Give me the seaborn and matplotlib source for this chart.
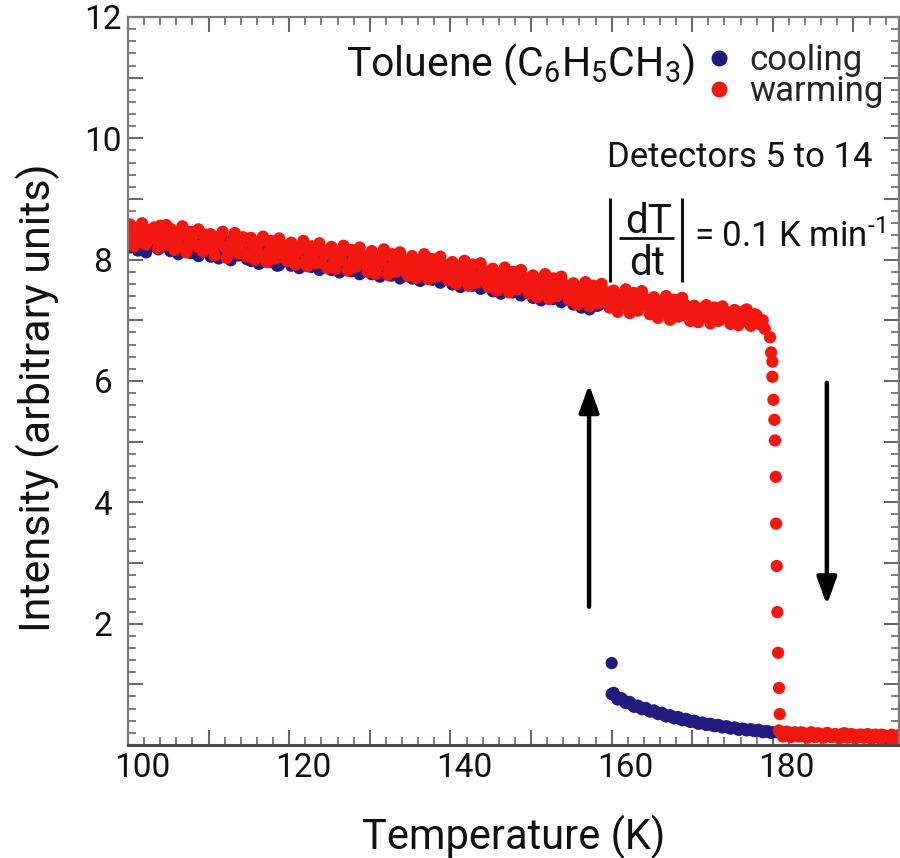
import matplotlib
matplotlib.use("Agg")
import matplotlib.pyplot as plt
from matplotlib.lines import Line2D
import numpy as np
import pandas as pd
import seaborn as sns
from matplotlib.ticker import MultipleLocator, FuncFormatter
from matplotlib.transforms import ScaledTranslation

# ---------------- data ----------------
cool_plateau_T = [
    100.0, 100.5, 101.0, 101.5, 102.0, 102.5, 103.0, 103.5, 104.0, 104.5,
    105.0, 105.5, 106.0, 106.5, 107.0, 107.5, 108.0, 108.5, 109.0, 109.5,
    110.0, 110.5, 111.0, 111.5, 112.0, 112.5, 113.0, 113.5, 114.0, 114.5,
    115.0, 115.5, 116.0, 116.5, 117.0, 117.5, 118.0, 118.5, 119.0, 119.5,
    120.0, 120.5, 121.0, 121.5, 122.0, 122.5, 123.0, 123.5, 124.0, 124.5,
    125.0, 125.5, 126.0, 126.5, 127.0, 127.5, 128.0, 128.5, 129.0, 129.5,
    130.0, 130.5, 131.0, 131.5, 132.0, 132.5, 133.0, 133.5, 134.0, 134.5,
    135.0, 135.5, 136.0, 136.5, 137.0, 137.5, 138.0, 138.5, 139.0, 139.5,
    140.0, 140.5, 141.0, 141.5, 142.0, 142.5, 143.0, 143.5, 144.0, 144.5,
    145.0, 145.5, 146.0, 146.5, 147.0, 147.5, 148.0, 148.5, 149.0, 149.5,
    150.0, 150.5, 151.0, 151.5, 152.0, 152.5, 153.0, 153.5, 154.0, 154.5,
    155.0, 155.5, 156.0, 156.5, 157.0, 157.5, 158.0, 158.5]
cool_plateau_I = [
    8.30, 8.41, 8.22, 8.36, 8.18, 8.33, 8.27, 8.44, 8.20, 8.31,
    8.35, 8.17, 8.28, 8.13, 8.32, 8.24, 8.11, 8.30, 8.21, 8.26,
    8.14, 8.27, 8.05, 8.22, 8.17, 8.30, 8.08, 8.19, 8.24, 8.10,
    8.18, 8.02, 8.15, 8.21, 7.97, 8.12, 8.06, 7.90, 8.14, 8.03,
    7.99, 8.11, 7.93, 8.05, 8.14, 7.91, 8.02, 7.96, 8.08, 7.88,
    7.97, 8.05, 7.86, 7.99, 7.92, 8.06, 7.83, 7.94, 7.89, 8.01,
    7.85, 7.93, 7.79, 7.97, 7.88, 7.74, 7.90, 8.00, 7.81, 7.86,
    7.78, 7.90, 7.72, 7.84, 7.79, 7.69, 7.86, 7.75, 7.81, 7.67,
    7.74, 7.62, 7.80, 7.68, 7.73, 7.59, 7.70, 7.76, 7.61, 7.66,
    7.57, 7.69, 7.52, 7.63, 7.58, 7.47, 7.65, 7.55, 7.49, 7.60,
    7.46, 7.55, 7.40, 7.52, 7.44, 7.36, 7.50, 7.41, 7.33, 7.47,
    7.38, 7.29, 7.43, 7.25, 7.35, 7.22, 7.31, 7.26]
cool_plateau_T2 = [
    100.25, 100.75, 101.25, 101.75, 102.25, 102.75, 103.25, 103.75, 104.25, 104.75,
    105.25, 105.75, 106.25, 106.75, 107.25, 107.75, 108.25, 108.75, 109.25, 109.75,
    110.25, 110.75, 111.25, 111.75, 112.25, 112.75, 113.25, 113.75, 114.25, 114.75,
    115.25, 115.75, 116.25, 116.75, 117.25, 117.75, 118.25, 118.75, 119.25, 119.75,
    120.25, 120.75, 121.25, 121.75, 122.25, 122.75, 123.25, 123.75, 124.25, 124.75,
    125.25, 125.75, 126.25, 126.75, 127.25, 127.75, 128.25, 128.75, 129.25, 129.75,
    130.25, 130.75, 131.25, 131.75, 132.25, 132.75, 133.25, 133.75, 134.25, 134.75,
    135.25, 135.75, 136.25, 136.75, 137.25, 137.75, 138.25, 138.75, 139.25, 139.75,
    140.25, 140.75, 141.25, 141.75, 142.25, 142.75, 143.25, 143.75, 144.25, 144.75,
    145.25, 145.75, 146.25, 146.75, 147.25, 147.75, 148.25, 148.75, 149.25, 149.75,
    150.25, 150.75, 151.25, 151.75, 152.25, 152.75, 153.25, 153.75, 154.25, 154.75,
    155.25, 155.75, 156.25, 156.75, 157.25, 157.75, 158.25]
cool_plateau_I2 = [
    8.20, 8.34, 8.15, 8.29, 8.12, 8.38, 8.22, 8.17, 8.31, 8.24,
    8.14, 8.25, 8.09, 8.21, 8.28, 8.11, 8.19, 8.06, 8.24, 8.15,
    8.05, 8.17, 8.02, 8.13, 8.20, 7.99, 8.12, 8.07, 8.16, 8.01,
    7.98, 8.10, 7.93, 8.06, 8.12, 7.96, 8.04, 7.91, 8.08, 7.99,
    7.90, 8.02, 7.86, 7.98, 8.05, 7.88, 7.96, 7.83, 8.00, 7.92,
    7.83, 7.95, 7.79, 7.91, 7.98, 7.81, 7.89, 7.76, 7.93, 7.85,
    7.76, 7.88, 7.72, 7.84, 7.90, 7.74, 7.82, 7.69, 7.86, 7.78,
    7.69, 7.81, 7.65, 7.77, 7.83, 7.67, 7.75, 7.62, 7.79, 7.71,
    7.59, 7.71, 7.55, 7.67, 7.73, 7.57, 7.65, 7.52, 7.69, 7.61,
    7.48, 7.60, 7.44, 7.56, 7.62, 7.46, 7.54, 7.41, 7.58, 7.50,
    7.37, 7.49, 7.33, 7.45, 7.51, 7.35, 7.43, 7.30, 7.47, 7.39,
    7.26, 7.37, 7.21, 7.33, 7.18, 7.29, 7.24]
cool_jump_T = [160.0]
cool_jump_I = [1.35]
cool_tail_T = [
    160.0, 160.5, 161.0, 161.5, 162.0, 162.5, 163.0, 163.5, 164.0, 164.5,
    165.0, 165.5, 166.0, 166.5, 167.0, 167.5, 168.0, 168.5, 169.0, 169.5,
    170.0, 170.5, 171.0, 171.5, 172.0, 172.5, 173.0, 173.5, 174.0, 174.5,
    175.0, 175.5, 176.0, 176.5, 177.0, 177.5, 178.0, 178.5, 179.0, 179.5,
    180.0, 180.5, 181.0, 181.5, 182.0, 182.5, 183.0, 183.5, 184.0, 184.5,
    185.0, 185.5, 186.0, 186.5, 187.0, 187.5, 188.0, 188.5, 189.0, 189.5,
    190.0, 190.5, 191.0, 191.5, 192.0, 192.5, 193.0, 193.5, 194.0, 194.5,
    195.0, 195.5]
cool_tail_I = [
    0.84, 0.80, 0.76, 0.73, 0.70, 0.67, 0.64, 0.62, 0.60, 0.58,
    0.56, 0.54, 0.52, 0.50, 0.48, 0.46, 0.45, 0.43, 0.42, 0.40,
    0.39, 0.38, 0.36, 0.35, 0.34, 0.33, 0.32, 0.31, 0.30, 0.29,
    0.28, 0.27, 0.26, 0.26, 0.25, 0.24, 0.24, 0.23, 0.22, 0.22,
    0.21, 0.21, 0.20, 0.20, 0.19, 0.19, 0.18, 0.18, 0.18, 0.17,
    0.17, 0.17, 0.16, 0.16, 0.16, 0.15, 0.15, 0.15, 0.15, 0.14,
    0.14, 0.14, 0.14, 0.13, 0.13, 0.13, 0.13, 0.12, 0.12, 0.12,
    0.12, 0.12]
cool_tail_T2 = [
    160.25, 160.75, 161.25, 161.75, 162.25, 162.75, 163.25, 163.75, 164.25, 164.75,
    165.25, 165.75, 166.25, 166.75, 167.25, 167.75, 168.25, 168.75, 169.25, 169.75,
    170.25, 170.75, 171.25, 171.75, 172.25, 172.75, 173.25, 173.75, 174.25, 174.75,
    175.25, 175.75, 176.25, 176.75, 177.25, 177.75, 178.25, 178.75, 179.25, 179.75]
cool_tail_I2 = [
    0.86, 0.75, 0.77, 0.69, 0.71, 0.63, 0.65, 0.59, 0.61, 0.55,
    0.57, 0.51, 0.53, 0.47, 0.49, 0.44, 0.46, 0.41, 0.43, 0.38,
    0.40, 0.35, 0.37, 0.33, 0.35, 0.31, 0.33, 0.29, 0.31, 0.27,
    0.29, 0.25, 0.27, 0.24, 0.26, 0.23, 0.25, 0.21, 0.23, 0.20]

warm_plateau_T = [
    100.0, 100.5, 101.0, 101.5, 102.0, 102.5, 103.0, 103.5, 104.0, 104.5,
    105.0, 105.5, 106.0, 106.5, 107.0, 107.5, 108.0, 108.5, 109.0, 109.5,
    110.0, 110.5, 111.0, 111.5, 112.0, 112.5, 113.0, 113.5, 114.0, 114.5,
    115.0, 115.5, 116.0, 116.5, 117.0, 117.5, 118.0, 118.5, 119.0, 119.5,
    120.0, 120.5, 121.0, 121.5, 122.0, 122.5, 123.0, 123.5, 124.0, 124.5,
    125.0, 125.5, 126.0, 126.5, 127.0, 127.5, 128.0, 128.5, 129.0, 129.5,
    130.0, 130.5, 131.0, 131.5, 132.0, 132.5, 133.0, 133.5, 134.0, 134.5,
    135.0, 135.5, 136.0, 136.5, 137.0, 137.5, 138.0, 138.5, 139.0, 139.5,
    140.0, 140.5, 141.0, 141.5, 142.0, 142.5, 143.0, 143.5, 144.0, 144.5,
    145.0, 145.5, 146.0, 146.5, 147.0, 147.5, 148.0, 148.5, 149.0, 149.5,
    150.0, 150.5, 151.0, 151.5, 152.0, 152.5, 153.0, 153.5, 154.0, 154.5,
    155.0, 155.5, 156.0, 156.5, 157.0, 157.5, 158.0, 158.5, 159.0, 159.5,
    160.0, 160.5, 161.0, 161.5, 162.0, 162.5, 163.0, 163.5, 164.0, 164.5,
    165.0, 165.5, 166.0, 166.5, 167.0, 167.5, 168.0, 168.5, 169.0, 169.5,
    170.0, 170.5, 171.0, 171.5, 172.0, 172.5, 173.0, 173.5, 174.0, 174.5,
    175.0, 175.5, 176.0, 176.5, 177.0, 177.5, 178.0, 178.5, 179.0]
warm_plateau_I = [
    8.45, 8.31, 8.52, 8.38, 8.27, 8.49, 8.41, 8.33, 8.56, 8.36,
    8.24, 8.42, 8.30, 8.47, 8.19, 8.35, 8.40, 8.22, 8.44, 8.28,
    8.33, 8.16, 8.29, 8.40, 8.21, 8.12, 8.35, 8.24, 8.18, 8.31,
    8.09, 8.26, 8.20, 8.05, 8.32, 8.14, 8.22, 8.03, 8.19, 8.11,
    8.17, 8.01, 8.13, 8.24, 7.98, 8.10, 8.06, 8.20, 7.95, 8.08,
    8.12, 7.93, 8.04, 7.99, 8.15, 7.90, 8.02, 8.08, 7.94, 7.97,
    8.03, 7.86, 7.98, 7.92, 8.07, 7.84, 7.95, 7.89, 8.01, 7.82,
    7.93, 7.79, 7.88, 7.96, 7.77, 7.85, 7.91, 7.74, 7.87, 7.80,
    7.84, 7.71, 7.89, 7.76, 7.68, 7.82, 7.73, 7.64, 7.79, 7.70,
    7.62, 7.75, 7.66, 7.58, 7.72, 7.61, 7.69, 7.54, 7.67, 7.59,
    7.63, 7.51, 7.57, 7.66, 7.48, 7.55, 7.44, 7.60, 7.50, 7.42,
    7.52, 7.39, 7.47, 7.35, 7.49, 7.41, 7.33, 7.46, 7.38, 7.30,
    7.40, 7.29, 7.36, 7.25, 7.38, 7.27, 7.33, 7.21, 7.30, 7.24,
    7.28, 7.17, 7.25, 7.14, 7.22, 7.11, 7.19, 7.23, 7.09, 7.16,
    7.18, 7.07, 7.14, 7.20, 7.04, 7.11, 7.16, 7.02, 7.09, 7.13,
    7.01, 7.10, 6.99, 7.06, 6.97, 7.03, 7.08, 6.93, 6.86]
warm_plateau_T2 = [
    100.25, 100.75, 101.25, 101.75, 102.25, 102.75, 103.25, 103.75, 104.25, 104.75,
    105.25, 105.75, 106.25, 106.75, 107.25, 107.75, 108.25, 108.75, 109.25, 109.75,
    110.25, 110.75, 111.25, 111.75, 112.25, 112.75, 113.25, 113.75, 114.25, 114.75,
    115.25, 115.75, 116.25, 116.75, 117.25, 117.75, 118.25, 118.75, 119.25, 119.75,
    120.25, 120.75, 121.25, 121.75, 122.25, 122.75, 123.25, 123.75, 124.25, 124.75,
    125.25, 125.75, 126.25, 126.75, 127.25, 127.75, 128.25, 128.75, 129.25, 129.75,
    130.25, 130.75, 131.25, 131.75, 132.25, 132.75, 133.25, 133.75, 134.25, 134.75,
    135.25, 135.75, 136.25, 136.75, 137.25, 137.75, 138.25, 138.75, 139.25, 139.75,
    140.25, 140.75, 141.25, 141.75, 142.25, 142.75, 143.25, 143.75, 144.25, 144.75,
    145.25, 145.75, 146.25, 146.75, 147.25, 147.75, 148.25, 148.75, 149.25, 149.75,
    150.25, 150.75, 151.25, 151.75, 152.25, 152.75, 153.25, 153.75, 154.25, 154.75,
    155.25, 155.75, 156.25, 156.75, 157.25, 157.75, 158.25, 158.75, 159.25, 159.75,
    160.25, 160.75, 161.25, 161.75, 162.25, 162.75, 163.25, 163.75, 164.25, 164.75,
    165.25, 165.75, 166.25, 166.75, 167.25, 167.75, 168.25, 168.75, 169.25, 169.75,
    170.25, 170.75, 171.25, 171.75, 172.25, 172.75, 173.25, 173.75, 174.25, 174.75,
    175.25, 175.75, 176.25, 176.75, 177.25, 177.75, 178.25, 178.75]
warm_plateau_I2 = [
    8.58, 8.22, 8.47, 8.60, 8.25, 8.39, 8.53, 8.19, 8.44, 8.57,
    8.51, 8.16, 8.37, 8.55, 8.12, 8.46, 8.25, 8.50, 8.14, 8.41,
    8.42, 8.07, 8.36, 8.46, 8.03, 8.28, 8.44, 8.10, 8.37, 8.05,
    8.36, 8.00, 8.27, 8.38, 7.96, 8.31, 8.02, 8.35, 8.24, 7.98,
    8.28, 7.92, 8.19, 8.31, 7.89, 8.22, 7.94, 8.27, 8.15, 7.86,
    8.21, 7.85, 8.13, 8.23, 7.82, 8.16, 7.88, 8.20, 8.06, 7.80,
    8.14, 7.77, 8.06, 8.17, 7.75, 8.09, 7.80, 8.12, 7.99, 7.73,
    8.06, 7.70, 7.99, 8.09, 7.68, 8.01, 7.72, 8.05, 7.92, 7.66,
    7.96, 7.60, 7.90, 7.98, 7.57, 7.92, 7.62, 7.94, 7.81, 7.55,
    7.85, 7.49, 7.78, 7.87, 7.46, 7.80, 7.51, 7.83, 7.70, 7.44,
    7.74, 7.38, 7.67, 7.76, 7.35, 7.69, 7.40, 7.72, 7.58, 7.33,
    7.61, 7.26, 7.55, 7.63, 7.23, 7.57, 7.28, 7.60, 7.47, 7.21,
    7.49, 7.14, 7.43, 7.51, 7.12, 7.45, 7.16, 7.48, 7.35, 7.10,
    7.38, 7.04, 7.32, 7.40, 7.01, 7.34, 7.06, 7.37, 7.24, 6.99,
    7.24, 6.97, 7.20, 7.25, 6.95, 7.21, 6.99, 7.23, 7.12, 6.94,
    7.17, 6.92, 7.14, 7.18, 6.91, 7.10, 6.95, 7.00]
warm_drop_T = [179.65, 179.78, 179.94, 179.94, 180.07, 180.19, 180.27,
               180.36, 180.40, 180.48, 180.56, 180.65, 180.77, 180.85]
warm_drop_I = [6.72, 6.47, 6.32, 6.07, 5.69, 5.36, 5.02,
               4.42, 3.65, 2.95, 2.19, 1.52, 0.94, 0.51]
warm_tail_T = [
    181.0, 181.5, 182.0, 182.5, 183.0, 183.5, 184.0, 184.5, 185.0, 185.5,
    186.0, 186.5, 187.0, 187.5, 188.0, 188.5, 189.0, 189.5, 190.0, 190.5,
    191.0, 191.5, 192.0, 192.5, 193.0, 193.5, 194.0, 194.5, 195.0, 195.5]
warm_tail_I = [
    0.20, 0.17, 0.19, 0.16, 0.18, 0.21, 0.16, 0.18, 0.15, 0.19,
    0.17, 0.15, 0.18, 0.16, 0.14, 0.17, 0.19, 0.15, 0.16, 0.14,
    0.17, 0.15, 0.13, 0.16, 0.15, 0.17, 0.14, 0.15, 0.13, 0.16]
warm_tail_T2 = [
    180.75, 181.25, 181.75, 182.25, 182.75, 183.25, 183.75, 184.25, 184.75, 185.25,
    185.75, 186.25, 186.75, 187.25, 187.75, 188.25, 188.75, 189.25, 189.75, 190.25,
    190.75, 191.25, 191.75, 192.25, 192.75, 193.25, 193.75, 194.25, 194.75, 195.25]
warm_tail_I2 = [
    0.24, 0.14, 0.22, 0.13, 0.21, 0.14, 0.20, 0.12, 0.21, 0.13,
    0.19, 0.12, 0.20, 0.13, 0.18, 0.11, 0.19, 0.12, 0.18, 0.11,
    0.17, 0.12, 0.18, 0.10, 0.17, 0.11, 0.16, 0.12, 0.17, 0.10]

x_ticks_labelled = [100, 120, 140, 160, 180]
y_ticks_labelled = [2, 4, 6, 8, 10, 12]

series_names = ["cooling", "warming"]
series_colors = {"cooling": "#221a7e", "warming": "#f2170f"}

# ---------------- assemble ----------------
cool_T = cool_plateau_T + cool_plateau_T2 + cool_jump_T + cool_tail_T + cool_tail_T2
cool_I = cool_plateau_I + cool_plateau_I2 + cool_jump_I + cool_tail_I + cool_tail_I2
warm_T = warm_plateau_T + warm_plateau_T2 + warm_drop_T + warm_tail_T + warm_tail_T2
warm_I = warm_plateau_I + warm_plateau_I2 + warm_drop_I + warm_tail_I + warm_tail_I2
assert len(cool_T) == len(cool_I) and len(warm_T) == len(warm_I)

df = pd.DataFrame({
    "T": cool_T + warm_T,
    "I": cool_I + warm_I,
    "run": [series_names[0]] * len(cool_T) + [series_names[1]] * len(warm_T),
})

# ---------------- style ----------------
sns.set_style("ticks")
plt.rcParams["font.family"] = ["Roboto", "DejaVu Sans"]
plt.rcParams["mathtext.fontset"] = "custom"
plt.rcParams["mathtext.rm"] = "Roboto"
plt.rcParams["mathtext.it"] = "Roboto:italic"
plt.rcParams["mathtext.bf"] = "Roboto:bold"
plt.rcParams["mathtext.sf"] = "Roboto"
plt.rcParams["mathtext.default"] = "regular"

TXT = "#111111"
fig = plt.figure(figsize=(9, 8.58), dpi=100)
ax = fig.add_axes([0.1422, 0.1317, 0.8567, 0.8485])

sns.scatterplot(data=df, x="T", y="I", hue="run", palette=series_colors,
                hue_order=series_names, s=78, linewidth=0, ax=ax, legend=True)

ax.set_xlim(100, 195.65)
ax.set_ylim(0, 12.0)

ax.xaxis.set_major_locator(MultipleLocator(10))
ax.xaxis.set_minor_locator(MultipleLocator(2))
ax.yaxis.set_major_locator(MultipleLocator(1))
ax.yaxis.set_minor_locator(MultipleLocator(0.2))
ax.xaxis.set_major_formatter(FuncFormatter(
    lambda v, p: f"{v:.0f}" if round(v) in x_ticks_labelled else ""))
ax.yaxis.set_major_formatter(FuncFormatter(
    lambda v, p: f"{v:.0f}" if round(v) in y_ticks_labelled and abs(v - round(v)) < 1e-6 else ""))

ax.tick_params(which="both", direction="in", top=True, right=True,
               color="#6a6a6a", labelsize=24, labelcolor=TXT)
ax.tick_params(which="major", length=11, width=1.5)
ax.tick_params(which="minor", length=6, width=1.2)
ax.tick_params(axis="x", pad=5)
ax.tick_params(axis="y", pad=18)

for name, sp in ax.spines.items():
    sp.set_color("#7a7a7a")
    sp.set_linewidth(1.6)
ax.spines["bottom"].set_color("#4a4a4a")
ax.spines["bottom"].set_linewidth(2.2)

ax.set_xlabel("Temperature (K)", fontsize=30, color=TXT)
ax.set_ylabel("Intensity (arbitrary units)", fontsize=31, color=TXT)
ax.xaxis.set_label_coords(0.5, -0.096)
ax.yaxis.set_label_coords(-0.088, 0.4766)

# tick label placement like the reference
offset = ScaledTranslation(14 / 100, 0, fig.dpi_scale_trans)
for lab in ax.get_xticklabels():
    lab.set_transform(lab.get_transform() + offset)
for lab in ax.get_yticklabels():
    lab.set_horizontalalignment("center")

# legend
handles, labels = ax.get_legend_handles_labels()
ax.legend(handles, labels, loc="upper left", bbox_to_anchor=(0.7833, 0.9487),
          bbox_transform=fig.transFigure, frameon=False, fontsize=25,
          handlelength=0.8, handletextpad=0.48, borderpad=0, borderaxespad=0,
          labelspacing=-0.05, markerscale=1.3, title=None)

# annotations
ax.text(0.2827, 0.920, r"Toluene (C$_6$H$_5$CH$_3$)", transform=ax.transAxes,
        fontsize=29.5, ha="left", va="baseline", color=TXT)
ax.text(0.965, 0.794, "Detectors 5 to 14", transform=ax.transAxes,
        fontsize=25, ha="right", va="baseline", color=TXT)

# |dT/dt| = 0.1 K min^-1
ax.text(0.6757, 0.7033, "dT", transform=ax.transAxes, fontsize=29,
        ha="center", va="baseline", color=TXT)
ax.text(0.6738, 0.6456, "dt", transform=ax.transAxes, fontsize=29,
        ha="center", va="baseline", color=TXT)
for (xs, ys, lw) in [((0.6368, 0.7082), (0.6964, 0.6964), 2.0),
                     ((0.6258, 0.6258), (0.6360, 0.7514), 2.2),
                     ((0.7185, 0.7185), (0.6360, 0.7514), 2.2)]:
    ax.add_line(Line2D(xs, ys, transform=ax.transAxes, color=TXT, lw=lw,
                       solid_capstyle="butt", clip_on=False))
ax.text(0.7341, 0.6841, r"= 0.1 K min$^{\text{-}1}$", transform=ax.transAxes,
        fontsize=25, ha="left", va="baseline", color=TXT)

arrow_style = dict(arrowstyle="-|>,head_length=0.55,head_width=0.2",
                   color="black", lw=3.2, shrinkA=0, shrinkB=0,
                   mutation_scale=30)
ax.annotate("", xy=(157.2, 5.94), xytext=(157.2, 2.28), arrowprops=arrow_style)
ax.annotate("", xy=(186.7, 2.31), xytext=(186.7, 5.97), arrowprops=arrow_style)

fig.savefig("out.png", dpi=100)
